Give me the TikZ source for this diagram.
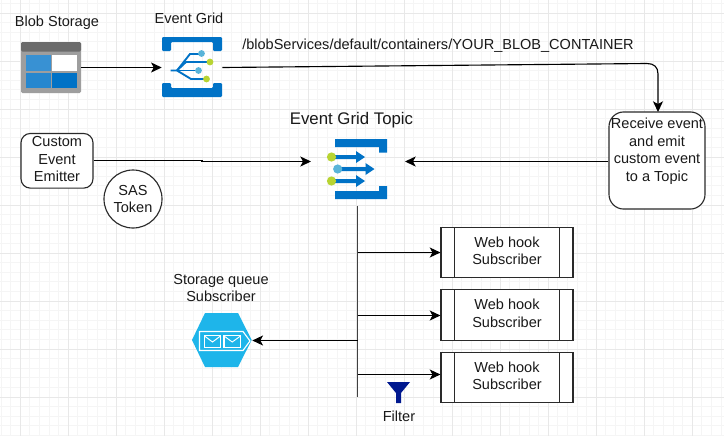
\documentclass[tikz,border=0pt]{standalone}
\usepackage{fontspec}
\setmainfont{Liberation Sans}
\usetikzlibrary{arrows.meta}
\definecolor{azure}{HTML}{0072C6}
\definecolor{azlite}{HTML}{59B4D9}
\definecolor{azgreen}{HTML}{B8D432}
\definecolor{qcyan}{HTML}{1EB5EA}
\definecolor{linecol}{HTML}{2A2A2A}
\definecolor{funnel}{HTML}{00188F}
\tikzset{
  x=0.75pt,y=-0.75pt,
  label text/.style={font=\fontsize{10.9pt}{13.1pt}\selectfont,align=center,inner sep=0pt,text=black!90},
  box/.style={draw=linecol,line width=0.85pt,fill=white},
  conn/.style={draw=black,line width=0.85pt},
  arr/.style={conn,-{Stealth[length=8pt,width=7.5pt,inset=2pt]}},
  gridmajor/.style={draw=black!9,line width=0.6pt},
  gridminor/.style={draw=black!4,line width=0.5pt},
}
\begin{document}
\begin{tikzpicture}
\useasboundingbox (0,0) rectangle (724,436);
\fill[white] (0,0) rectangle (724,436);
% grid
\foreach \k in {0,...,75}{\draw[gridminor] ({1+\k*9.6},0) -- ({1+\k*9.6},436);}
\foreach \k in {0,...,45}{\draw[gridminor] (0,{3.4+\k*9.6}) -- (724,{3.4+\k*9.6});}
\foreach \k in {0,...,14}{\draw[gridmajor] ({20+\k*48},0) -- ({20+\k*48},436);}
\foreach \k in {0,...,8}{\draw[gridmajor] (0,{13+\k*48}) -- (724,{13+\k*48});}

% anchors of the icons
\node[inner sep=0pt,minimum width=45pt,minimum height=38.25pt] (blob) at (51,67.5) {};
\node[inner sep=0pt,minimum width=45pt,minimum height=45pt] (egrid) at (192,67.5) {};
\node[inner sep=0pt,minimum width=44.8pt,minimum height=40.5pt] (queue) at (222.2,340.5) {};
\coordinate (topicW) at (311,161.5);
\coordinate (topicE) at (405,161.5);

% blob storage icon
\fill[black!38,rounded corners=1pt] (21,42) rectangle (81,93);
\fill[black!58,rounded corners=1pt] (21,42) rectangle (81,51.5);
\fill[azure!78!white] (26,55) rectangle (51,71);
\fill[white] (52,55) rectangle (77,71);
\fill[azure!85!white] (26,73) rectangle (51,88);
\fill[azure] (52,73) rectangle (77,88);

% event grid icon
\fill[azure,rounded corners=0.8pt] (162,51) -- (162,37) -- (222,37) -- (222,51) -- (213,51) -- (213,42) -- (171,42) -- (171,51) -- cycle;
\fill[azure,rounded corners=0.8pt] (162,83) -- (162,97) -- (222,97) -- (222,83) -- (213,83) -- (213,88) -- (171,88) -- (171,83) -- cycle;
\draw[azure,line width=1.4pt] (170.5,70.5) -- (177,70.5) -- (190,54) -- (201,54);
\draw[azure,line width=1.4pt] (177,70.5) -- (186,62) -- (207,62);
\draw[azure,line width=1.4pt] (177,70.5) -- (198,70.5);
\draw[azure,line width=1.4pt] (177,70.5) -- (191,79) -- (207,79);
\fill[azlite] (201.5,53.5) circle (3.4);
\fill[azgreen] (210,62) circle (3.4);
\fill[azlite] (198.5,70.5) circle (3.4);
\fill[azgreen] (206.5,79) circle (3.4);

% event grid topic icon
\fill[azure] (335,139) -- (387,139) -- (387,152.5) -- (379,152.5) -- (379,147) -- (335,147) -- cycle;
\fill[azure] (335,199) -- (387,199) -- (387,186) -- (379,186) -- (379,191) -- (335,191) -- cycle;
\foreach \yy/\xa/\xb in {157/332/365,169/338/374.5,181/332/365}{
  \fill[azure] (\xa,\yy-2) -- (\xb-9,\yy-2) -- (\xb-9,\yy-6) -- (\xb,\yy) -- (\xb-9,\yy+6) -- (\xb-9,\yy+2) -- (\xa,\yy+2) -- cycle;
}
\fill[azgreen] (331.5,157) circle (4.6);
\fill[azlite] (337.7,169) circle (4.6);
\fill[azgreen] (331.5,181) circle (4.6);

% storage queue icon
\fill[qcyan] (192,340) -- (205,313) -- (238,313) -- (251.7,340) -- (238,367) -- (205,367) -- cycle;
\draw[white,line width=0.85pt] (199.5,331.5) -- (243,331.5) -- (250,341) -- (243,350.5) -- (199.5,350.5) -- cycle;
\foreach \xa/\xb in {204.5/220.5,224/240.5}{
  \draw[white,line width=0.85pt] (\xa,335.5) rectangle (\xb,347.5);
  \draw[white,line width=0.7pt] (\xa,336) -- ({(\xa+\xb)/2},342) -- (\xb,336);
}

% funnel
\fill[funnel] (387,382) -- (410,382) -- (401,393) -- (401,403) -- (396,403) -- (396,393) -- cycle;

% boxes
\node[box,rounded corners=7pt,minimum width=54pt,minimum height=41pt,inner sep=0pt] (emitter) at (57,160.8) {};
\node[label text] at (57,159) {Custom\\Event\\Emitter};
\node[box,circle,minimum size=43.5pt,inner sep=0pt,label text] (sas) at (133,199) {SAS\\Token};
\node[box,rounded corners=11pt,minimum width=72pt,minimum height=72.8pt,inner sep=0pt] (receive) at (657,160.5) {};
\node[label text,anchor=north] at (657,118) {Receive event\\and emit\\custom event\\to a Topic};

\foreach \n/\yy in {1/252.5,2/315,3/377.5}{
  \node[box,minimum width=99pt,minimum height=38pt,inner sep=0pt] (web\n) at (507,\yy) {};
  \node[label text] at (507,\yy-1.5) {Web hook\\Subscriber};
  \draw[box,fill=none] (454.5,\yy-25.3) -- (454.5,\yy+25.3);
  \draw[box,fill=none] (559.5,\yy-25.3) -- (559.5,\yy+25.3);
}

% labels
\node[label text] (lblob) at (57,23) {Blob Storage};
\node[label text] (legrid) at (189,18) {Event Grid};
\node[label text,anchor=west] (lpath) at (242,46) {/blobServices/default/containers/YOUR\_BLOB\_CONTAINER};
\node[label text,font=\fontsize{12.6pt}{14pt}\selectfont] (ltopic) at (351.5,120) {Event Grid Topic};
\node[label text] (lqueue) at (221,288) {Storage queue\\Subscriber};
\node[label text] (lfilter) at (399,416) {Filter};

% connectors
\coordinate (busTop) at (357.5,206);
\coordinate (busBot) at (357.5,397);
\coordinate (busA) at (357.5,252.5);
\coordinate (busB) at (357.5,315.5);
\coordinate (busC) at (357.5,340.5);
\coordinate (busD) at (357.5,374.5);
\draw[arr] (blob.east) -- (egrid.west);
\draw[arr] (egrid.east) -- (647,63.5) .. controls (654,63.5) and (658,67) .. (658,74) -- (658,112);
\draw[arr] (emitter.east |- 0,160.5) -- (202,160.5) -- (202,161.5) -- (topicW);
\draw[arr] (receive.west |- topicE) -- (topicE);
\draw[conn,draw=black!75,line width=1pt] (busTop) -- (busBot);
\draw[arr] (busA) -- (web1.west);
\draw[arr] (busB) -- (web2.west |- busB);
\draw[arr] (busD) -- (web3.west |- busD);
\draw[arr] (busC) -- (queue.east);
\end{tikzpicture}
\end{document}
